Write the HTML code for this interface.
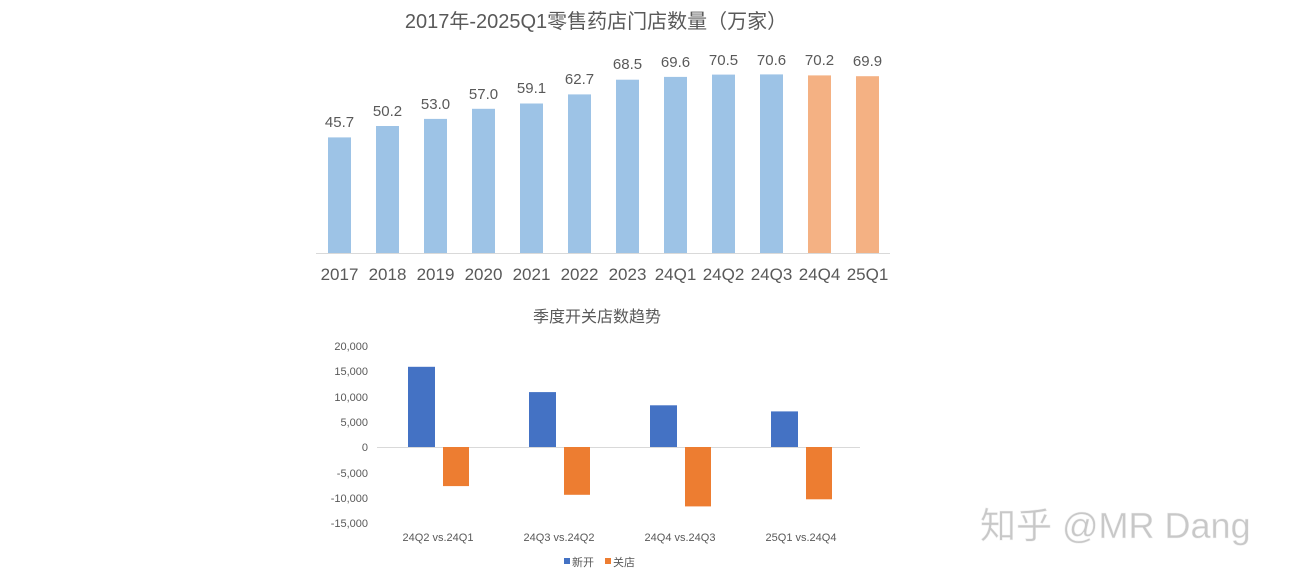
<!DOCTYPE html>
<html><head><meta charset="utf-8"><style>
body{margin:0;background:#fff;}
svg text{font-family:"Liberation Sans","Noto Sans CJK SC",sans-serif;}
</style></head><body>
<svg width="1292" height="582" xmlns="http://www.w3.org/2000/svg">
<rect width="1292" height="582" fill="#fff"/>
<text x="596" y="28" font-size="20" fill="#595959" text-anchor="middle">2017年-2025Q1零售药店门店数量（万家）</text>
<line x1="316" y1="253.5" x2="890" y2="253.5" stroke="#d9d9d9" stroke-width="1"/>
<g font-size="15" fill="#595959" text-anchor="middle">
<rect x="328" y="137.4" width="23" height="115.6" fill="#9dc3e6"/><text x="339.5" y="127">45.7</text><text x="339.5" y="280" font-size="17">2017</text>
<rect x="376" y="126" width="23" height="127" fill="#9dc3e6"/><text x="387.5" y="116">50.2</text><text x="387.5" y="280" font-size="17">2018</text>
<rect x="424" y="118.9" width="23" height="134.1" fill="#9dc3e6"/><text x="435.5" y="109">53.0</text><text x="435.5" y="280" font-size="17">2019</text>
<rect x="472" y="108.8" width="23" height="144.2" fill="#9dc3e6"/><text x="483.5" y="99">57.0</text><text x="483.5" y="280" font-size="17">2020</text>
<rect x="520" y="103.5" width="23" height="149.5" fill="#9dc3e6"/><text x="531.5" y="93">59.1</text><text x="531.5" y="280" font-size="17">2021</text>
<rect x="568" y="94.4" width="23" height="158.6" fill="#9dc3e6"/><text x="579.5" y="84">62.7</text><text x="579.5" y="280" font-size="17">2022</text>
<rect x="616" y="79.7" width="23" height="173.3" fill="#9dc3e6"/><text x="627.5" y="69">68.5</text><text x="627.5" y="280" font-size="17">2023</text>
<rect x="664" y="76.9" width="23" height="176.1" fill="#9dc3e6"/><text x="675.5" y="67">69.6</text><text x="675.5" y="280" font-size="17">24Q1</text>
<rect x="712" y="74.6" width="23" height="178.4" fill="#9dc3e6"/><text x="723.5" y="65">70.5</text><text x="723.5" y="280" font-size="17">24Q2</text>
<rect x="760" y="74.4" width="23" height="178.6" fill="#9dc3e6"/><text x="771.5" y="65">70.6</text><text x="771.5" y="280" font-size="17">24Q3</text>
<rect x="808" y="75.4" width="23" height="177.6" fill="#f4b183"/><text x="819.5" y="65">70.2</text><text x="819.5" y="280" font-size="17">24Q4</text>
<rect x="856" y="76.2" width="23" height="176.8" fill="#f4b183"/><text x="867.5" y="66">69.9</text><text x="867.5" y="280" font-size="17">25Q1</text>
</g>
<text x="597" y="322" font-size="16" fill="#595959" text-anchor="middle">季度开关店数趋势</text>
<g font-size="11" fill="#595959" text-anchor="end">
<text x="368" y="350">20,000</text><text x="368" y="375">15,000</text><text x="368" y="401">10,000</text><text x="368" y="426">5,000</text><text x="368" y="451">0</text><text x="368" y="477">-5,000</text><text x="368" y="502">-10,000</text><text x="368" y="527">-15,000</text>
</g>
<line x1="377" y1="447.5" x2="860" y2="447.5" stroke="#d9d9d9"/>
<rect x="408" y="366.8" width="27" height="80.2" fill="#4472c4"/><rect x="443" y="447" width="26" height="39.1" fill="#ed7d31"/>
<rect x="529" y="392.1" width="27" height="54.9" fill="#4472c4"/><rect x="564" y="447" width="26" height="47.8" fill="#ed7d31"/>
<rect x="650" y="405.3" width="27" height="41.7" fill="#4472c4"/><rect x="685" y="447" width="26" height="59.4" fill="#ed7d31"/>
<rect x="771" y="411.4" width="27" height="35.6" fill="#4472c4"/><rect x="806" y="447" width="26" height="52.3" fill="#ed7d31"/>
<g font-size="11" fill="#595959" text-anchor="middle">
<text x="438" y="541">24Q2 vs.24Q1</text><text x="559" y="541">24Q3 vs.24Q2</text><text x="680" y="541">24Q4 vs.24Q3</text><text x="801" y="541">25Q1 vs.24Q4</text>
</g>
<rect x="564" y="558" width="6" height="6" fill="#4472c4"/><text x="572" y="566" font-size="11" fill="#595959">新开</text>
<rect x="605" y="558" width="6" height="6" fill="#ed7d31"/><text x="613" y="566" font-size="11" fill="#595959">关店</text>
<text x="980" y="538" font-size="36" fill="#c8c8c8" stroke="#f2f2f2" stroke-width="0.5">知乎 @MR Dang</text>
</svg>
</body></html>
